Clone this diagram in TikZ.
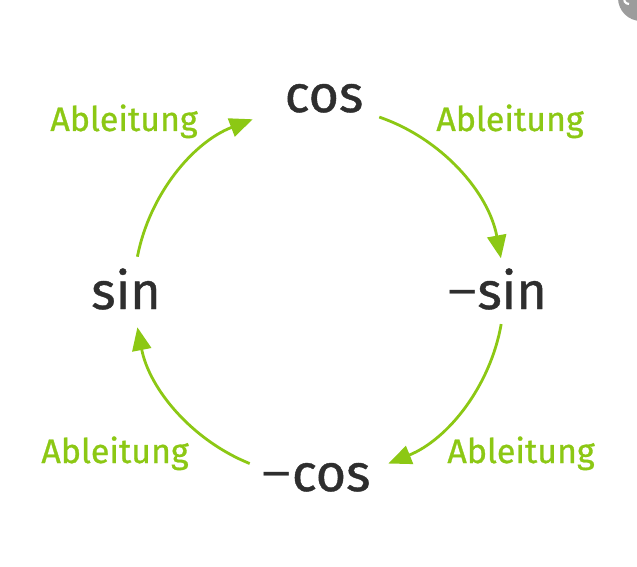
\documentclass[tikz,border=0pt]{standalone}
\usepackage{fontspec}
\setmainfont{Fira Sans}[FakeBold=0.8]
\newfontfamily\minusfont{Liberation Sans}
\usetikzlibrary{arrows.meta}
\definecolor{lgreen}{HTML}{8CC814}
\definecolor{dtext}{HTML}{2E2E2E}
\definecolor{cgray}{HTML}{9C9C9C}
\newcommand{\mns}{{\minusfont −}}
\begin{document}
\begin{tikzpicture}[x=1pt,y=1pt,
  fn/.style={text=dtext,font=\fontsize{52}{56}\selectfont,inner sep=0pt,anchor=base},
  lbl/.style={text=lgreen,font=\fontsize{34}{38}\selectfont,inner sep=0pt,anchor=base},
  arr/.style={draw=lgreen,line width=2.8pt,-{Triangle[length=23pt,width=19pt]}}]
\useasboundingbox (0,0) rectangle (637,566);
\fill[white] (0,0) rectangle (637,566);
\begin{scope}
\clip (0,0) rectangle (637,566);
\fill[cgray] (641,568) circle[radius=23];
\draw[white,line width=2.2pt] (629,562) arc[start angle=-90,end angle=-200,radius=5];
\end{scope}
\node[fn] (cos) at (324,454) {cos};
\node[fn] (msin) at (497,257) {\mns sin};
\node[fn] (mcos) at (316,75) {\mns cos};
\node[fn] (sin) at (126,257) {sin};
\node[lbl] (l1) at (124,435) {Ableitung};
\node[lbl] (l2) at (510,435) {Ableitung};
\node[lbl] (l3) at (115,103) {Ableitung};
\node[lbl] (l4) at (521,103) {Ableitung};
\coordinate (C) at (319,274);
\coordinate (a1) at ([shift={(71:185)}]C);
\coordinate (a2) at ([shift={(-10:185)}]C);
\coordinate (a3) at ([shift={(-112:185)}]C);
\coordinate (a4) at ([shift={(169:185)}]C);
\draw[arr] (a1) arc[start angle=71,end angle=10.5,radius=185];
\draw[arr] (a2) arc[start angle=-10,end angle=-68,radius=185];
\draw[arr] (a3) arc[start angle=-112,end angle=-169,radius=185];
\draw[arr] (a4) arc[start angle=169,end angle=111,radius=185];
\end{tikzpicture}
\end{document}
